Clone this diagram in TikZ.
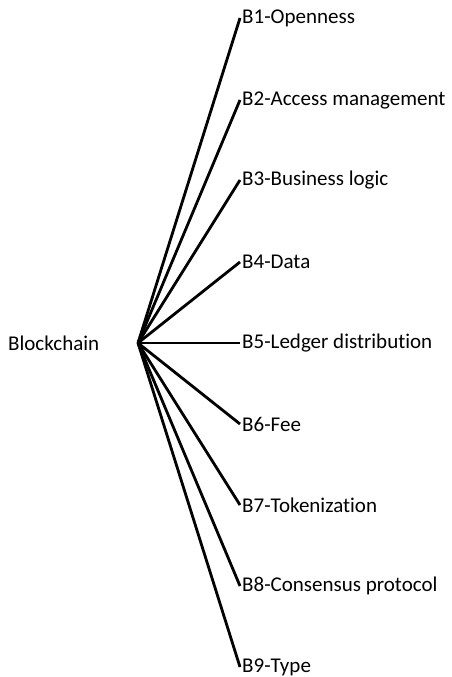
\documentclass[tikz,border=0pt]{standalone}
\usepackage{fontspec}
\setmainfont{Carlito}[Ligatures=NoCommon]
\usetikzlibrary{calc}

\begin{document}
\begin{tikzpicture}[x=1pt,y=-1pt,
    leaf/.style={anchor=west,inner sep=2pt,font=\fontsize{21}{24}\selectfont},
    branch/.style={line width=2.8pt}]
  \useasboundingbox (0,0) rectangle (452,677);

  \node [leaf,anchor=west] (root) at (6,343) {Blockchain};
  \coordinate (R) at (138,343);

  \node [leaf] (b1) at (240,18) {B1-Openness};
  \node [leaf] (b2) at (240,100) {B2-Access management};
  \node [leaf] (b3) at (240,180) {B3-Business logic};
  \node [leaf] (b4) at (240,262) {B4-Data};
  \node [leaf] (b5) at (240,343) {B5-Ledger distribution};
  \node [leaf] (b6) at (240,424) {B6-Fee};
  \node [leaf] (b7) at (240,505) {B7-Tokenization};
  \node [leaf] (b8) at (240,586) {B8-Consensus protocol};
  \node [leaf] (b9) at (240,667) {B9-Type};

  \draw [branch] (R) -- (b1.west);
  \draw [branch] (R) -- (b2.west);
  \draw [branch] (R) -- (b3.west);
  \draw [branch] (R) -- (b4.west);
  \draw [branch] (R) -- (b5.west);
  \draw [branch] (R) -- (b6.west);
  \draw [branch] (R) -- (b7.west);
  \draw [branch] (R) -- (b8.west);
  \draw [branch] (R) -- (b9.west);
\end{tikzpicture}
\end{document}
